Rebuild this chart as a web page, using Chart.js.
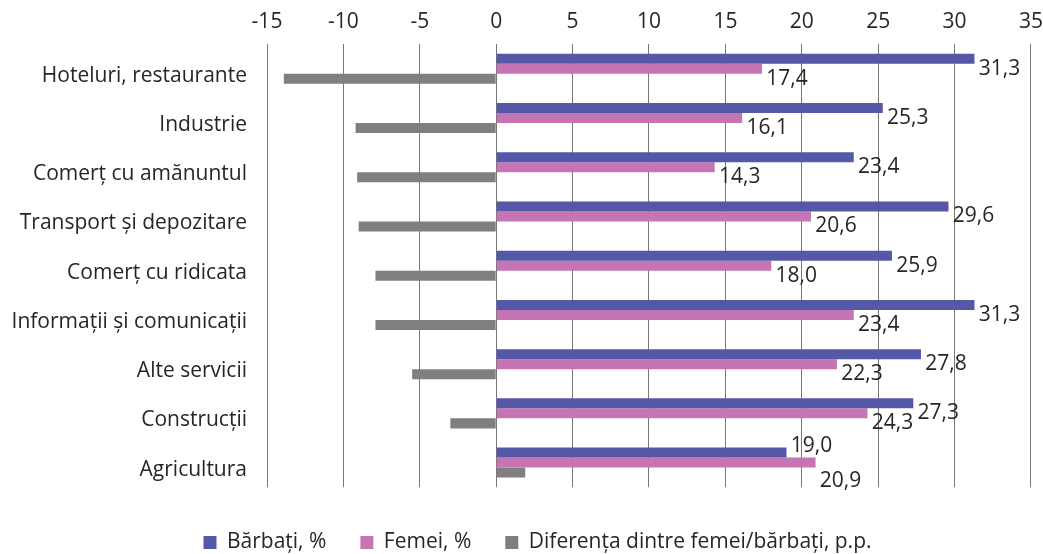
<!DOCTYPE html>
<html>
<head>
<meta charset="utf-8">
<script src="https://cdn.jsdelivr.net/npm/chart.js@4"></script>
<style>
  html, body { margin: 0; padding: 0; background: #fff; }
  #wrap { width: 1043px; height: 554px; }
</style>
</head>
<body>
<div id="wrap"><canvas id="chart"></canvas></div>
<script>
var categories = ['Hoteluri, restaurante', 'Industrie', 'Comerț cu amănuntul', 'Transport și depozitare',
  'Comerț cu ridicata', 'Informații și comunicații', 'Alte servicii', 'Construcții', 'Agricultura'];
var barbati = [31.3, 25.3, 23.4, 29.6, 25.9, 31.3, 27.8, 27.3, 19.0];
var femei = [17.4, 16.1, 14.3, 20.6, 18.0, 23.4, 22.3, 24.3, 20.9];
var diferenta = [-13.9, -9.2, -9.1, -9.0, -7.9, -7.9, -5.5, -3.0, 1.9];
var seriesNames = ['Bărbați, %', 'Femei, %', 'Diferența dintre femei/bărbați, p.p.'];

var FONT = '"Open Sans"';
var TEXT = '#262626';

// value labels for the first two series, right of the bar end and a bit lower
var valueLabels = {
  id: 'valueLabels',
  afterDatasetsDraw: function(chart) {
    var ctx = chart.ctx;
    ctx.save();
    ctx.font = '21px ' + FONT;
    ctx.fillStyle = TEXT;
    ctx.textAlign = 'center';
    ctx.textBaseline = 'middle';
    [0, 1].forEach(function(di) {
      var meta = chart.getDatasetMeta(di);
      meta.data.forEach(function(bar, i) {
        var v = chart.data.datasets[di].data[i];
        var txt = v.toFixed(1).replace('.', ',');
        var x = bar.x + 25;
        var y = bar.y + 10;
        var blue = chart.getDatasetMeta(0).data[i];
        var pink = chart.getDatasetMeta(1).data[i];
        if (pink.x > blue.x) {
          // pink bar runs past the blue one: blue label goes up, pink label down
          y = di === 0 ? bar.y - 7 : bar.y + 18;
        }
        ctx.fillText(txt, x, y);
      });
    });
    ctx.restore();
  }
};

// legend sits a little right of the canvas centre in the original
var legendShift = {
  id: 'legendShift',
  afterLayout: function(chart) {
    chart.legend.left += 11;
    chart.legend.right += 11;
  }
};

var ctx = document.getElementById('chart').getContext('2d');
var myChart = new Chart(ctx, {
  type: 'bar',
  data: {
    labels: categories,
    datasets: [{
      label: seriesNames[0],
      data: barbati,
      backgroundColor: '#5558a6'
    }, {
      label: seriesNames[1],
      data: femei,
      backgroundColor: '#c574b4'
    }, {
      label: seriesNames[2],
      data: diferenta,
      backgroundColor: '#7f7f7f'
    }]
  },
  options: {
    indexAxis: 'y',
    responsive: true,
    maintainAspectRatio: false,
    animation: false,
    barPercentage: 1,
    categoryPercentage: 0.61,
    layout: {
      padding: { left: 10, right: 0, top: 9, bottom: -9 }
    },
    plugins: {
      legend: {
        position: 'bottom',
        title: {
          display: true,
          text: '',
          font: { size: 9 },
          padding: 0
        },
        labels: {
          boxWidth: 13,
          boxHeight: 13,
          padding: 34,
          color: TEXT,
          font: { family: FONT, size: 21 }
        }
      },
      tooltip: { enabled: false }
    },
    scales: {
      x: {
        position: 'top',
        min: -15,
        max: 35,
        z: 1,
        ticks: {
          stepSize: 5,
          padding: 0,
          color: TEXT,
          font: { family: FONT, size: 21 }
        },
        grid: {
          color: '#767676',
          drawTicks: true,
          tickLength: 10,
          tickColor: 'rgba(0,0,0,0)'
        },
        border: { display: false }
      },
      y: {
        ticks: {
          padding: 12,
          labelOffset: 7,
          color: TEXT,
          font: { family: FONT, size: 21 }
        },
        grid: { display: false },
        border: { display: false },
        afterFit: function(scale) { scale.width = 257; }
      }
    }
  },
  plugins: [valueLabels, legendShift]
});
</script>
</body>
</html>
